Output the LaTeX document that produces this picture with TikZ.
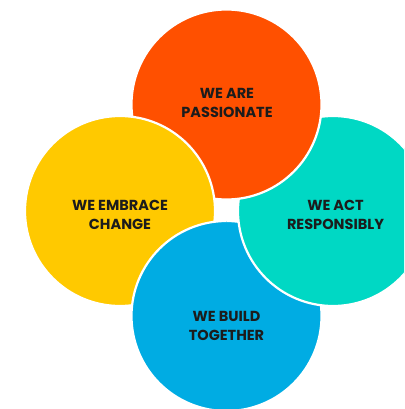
\documentclass[tikz,border=0pt]{standalone}
\usepackage{fontspec}
\setmainfont{Poppins}
\definecolor{passion}{RGB}{255,80,0}
\definecolor{embrace}{RGB}{255,201,0}
\definecolor{responsible}{RGB}{0,216,196}
\definecolor{together}{RGB}{0,172,227}
\definecolor{ink}{RGB}{28,28,28}
\begin{document}
\begin{tikzpicture}[x=1pt,y=-1pt,
  disc/.style={circle, draw=white, line width=2.2pt, minimum size=190pt, inner sep=0pt},
  motto/.style={font=\bfseries\fontsize{14.5}{19}\selectfont, text=ink, align=center, inner sep=0pt}]
\useasboundingbox (0,0) rectangle (404,409);
\clip (0,0) rectangle (404,409);
% the four value discs, each lying over its neighbour in turn
\node[disc, fill=together] (build) at (226.5,316) {};
\node[disc, fill=responsible] (act) at (333,211) {};
\node[disc, fill=passion] (passion) at (226.5,104.5) {};
\node[disc, fill=embrace] (embrace) at (120,211) {};
% the blue disc lies over the yellow one: repaint its left half on top
\begin{scope}
  \clip (0,0) rectangle (226.5,409);
  \node[disc, fill=together] (buildtop) at (226.5,316) {};
\end{scope}
% captions
\node[motto] (tpassion) at (227,102.5) {WE ARE\\PASSIONATE};
\node[motto] (tembrace) at (120,214.5) {WE EMBRACE\\CHANGE};
\node[motto] (tact) at (335.5,214.5) {WE ACT\\RESPONSIBLY};
\node[motto] (tbuild) at (226.5,326) {WE BUILD\\TOGETHER};
\end{tikzpicture}
\end{document}
